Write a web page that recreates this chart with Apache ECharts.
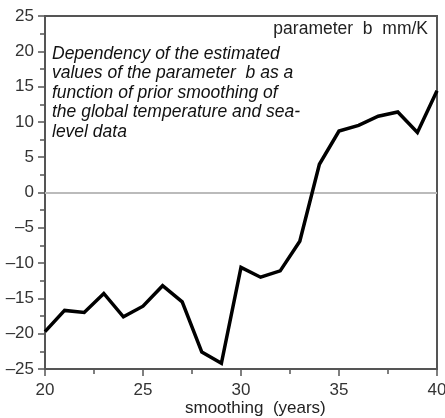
<!DOCTYPE html>
<html>
<head>
<meta charset="utf-8">
<script src="https://cdn.jsdelivr.net/npm/echarts@6/dist/echarts.min.js"></script>
<style>
  html, body { margin: 0; padding: 0; background: #fff; }
  #chart { width: 445px; height: 418px; }
</style>
</head>
<body>
<div id="chart"></div>
<script>
  // smoothing window (years) and estimated parameter b (mm/K)
  var smoothing = [20, 21, 22, 23, 24, 25, 26, 27, 28, 29, 30, 31, 32, 33, 34, 35, 36, 37, 38, 39, 40];
  var paramB = [-19.7, -16.7, -17.0, -14.3, -17.6, -16.1, -13.2, -15.5, -22.6, -24.2, -10.6, -12.0, -11.1, -6.9, 4.0, 8.7, 9.5, 10.8, 11.4, 8.5, 14.4];

  var note = [
    'Dependency of the estimated',
    'values of the parameter  b as a',
    'function of prior smoothing of',
    'the global temperature and sea-',
    'level data'
  ];

  var myChart = echarts.init(document.getElementById('chart'));

  var axisColor = '#555';
  var labelColor = '#333';
  var font = 'Liberation Sans, Arial, sans-serif';

  var option = {
    animation: false,
    grid: {
      left: 45, right: 8, top: 16, bottom: 49,
      outerBoundsMode: 'none',
      show: true, borderColor: axisColor, borderWidth: 2
    },
    xAxis: {
      type: 'value',
      min: 20, max: 40, interval: 5,
      axisLine: { onZero: false, lineStyle: { color: axisColor, width: 2 } },
      axisTick: { length: 7, lineStyle: { color: axisColor, width: 1.5 } },
      minorTick: { show: true, splitNumber: 2, length: 5, lineStyle: { color: axisColor, width: 1.5 } },
      splitLine: { show: false },
      axisLabel: { color: labelColor, fontSize: 17, fontFamily: font, margin: 13 }
    },
    yAxis: {
      type: 'value',
      min: -25, max: 25, interval: 5,
      axisLine: { show: true, lineStyle: { color: axisColor, width: 2 } },
      axisTick: { show: true, length: 7, lineStyle: { color: axisColor, width: 1.5 } },
      minorTick: { show: true, splitNumber: 2, length: 5, lineStyle: { color: axisColor, width: 1.5 } },
      splitLine: { show: false },
      axisLabel: {
        color: labelColor, fontSize: 17, fontFamily: font, margin: 11,
        formatter: function (v) { return String(v).replace('-', '\u2013'); }
      }
    },
    graphic: [
      {
        type: 'text', left: 52, top: 44,
        style: {
          text: note.join('\n'), fill: '#111', lineHeight: 19.5,
          font: 'italic 17.5px Liberation Sans, Arial, sans-serif'
        }
      },
      {
        type: 'text', right: 17, top: 20,
        style: { text: 'parameter  b  mm/K', fill: '#222', font: '17.5px Liberation Sans, Arial, sans-serif' }
      },
      {
        type: 'text', left: 185, top: 400,
        style: { text: 'smoothing  (years)', fill: '#222', font: '17px Liberation Sans, Arial, sans-serif' }
      }
    ],
    series: [{
      type: 'line',
      data: smoothing.map(function (x, i) { return [x, paramB[i]]; }),
      symbol: 'none',
      lineStyle: { color: '#000', width: 3.5, join: 'miter' },
      z: 3,
      markLine: {
        silent: true,
        symbol: 'none',
        label: { show: false },
        lineStyle: { color: '#bbb', width: 2, type: 'solid' },
        data: [{ yAxis: 0 }],
        z: 1
      }
    }]
  };

  myChart.setOption(option);
</script>
</body>
</html>
